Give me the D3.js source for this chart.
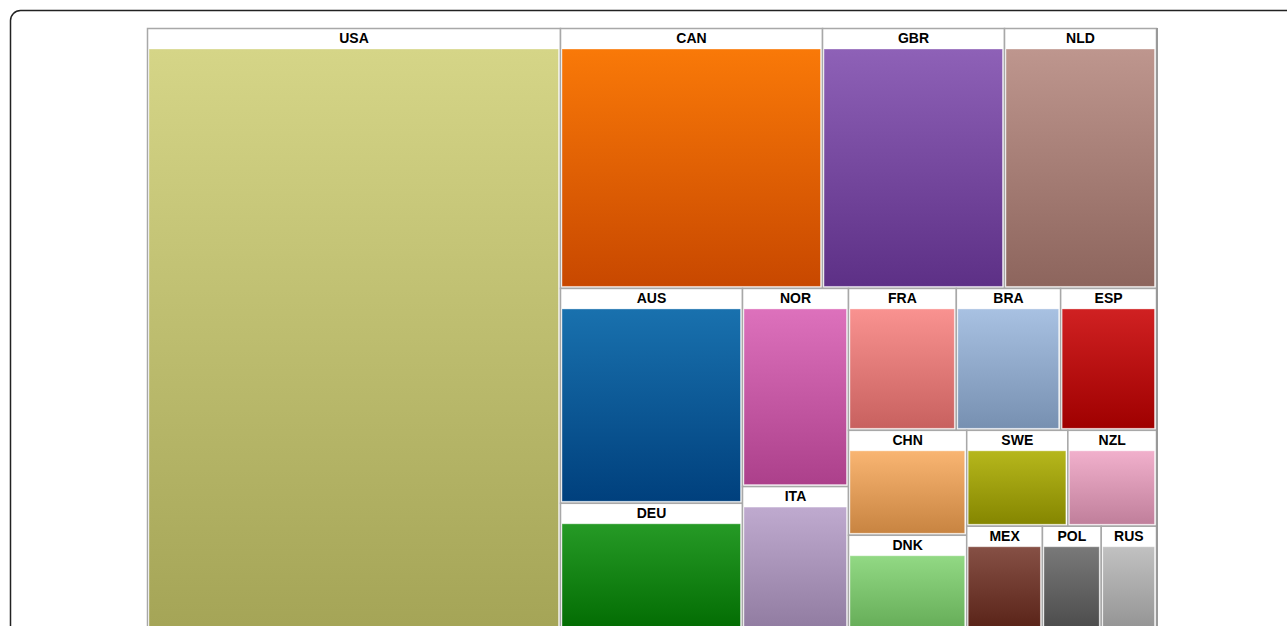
<!DOCTYPE html>
<html>
<head>
<meta charset="utf-8">
<script src="https://cdn.jsdelivr.net/npm/d3@7"></script>
<style>
  html, body { margin: 0; padding: 0; background: #fff; }
  svg { display: block; }
</style>
</head>
<body>
<svg id="chart" width="1287" height="626"></svg>
<script>
// ---- data ----
const countries = ["USA","CAN","GBR","NLD","AUS","DEU","NOR","ITA","FRA","BRA","ESP","CHN","DNK","SWE","NZL","MEX","POL","RUS"];
const values    = [2519, 681, 473, 395, 391, 246, 210, 161, 153, 148, 136, 124, 122, 97, 85, 85, 66, 62];
// category20 colour assigned to each country (same order as countries)
const colors    = ["#dbdb8d","#ff7f0e","#9467bd","#c49c94","#1f77b4","#2ca02c","#e377c2","#c5b0d5","#ff9896","#aec7e8","#d62728","#ffbb78","#98df8a","#bcbd22","#f7b6d2","#8c564b","#7f7f7f","#c7c7c7"];
// row / column grouping of the layout (indices into countries); "h" = side by side, "v" = stacked
const groups = {dir:"h", kids:[0, {dir:"v", kids:[
  {dir:"h", kids:[1,2,3]},
  {dir:"h", kids:[
    {dir:"v", kids:[4,5]},
    {dir:"v", kids:[6,7]},
    {dir:"v", kids:[
      {dir:"h", kids:[8,9,10]},
      {dir:"h", kids:[
        {dir:"v", kids:[11,12]},
        {dir:"v", kids:[
          {dir:"h", kids:[13,14]},
          {dir:"h", kids:[15,16,17]}
        ]}
      ]}
    ]}
  ]}
]}]};

function build(g) {
  if (typeof g === "number") return {name: countries[g], value: values[g], color: colors[g], idx: g};
  return {dir: g.dir, children: g.kids.map(build)};
}

const svg = d3.select("#chart");

// frame
svg.append("rect")
  .attr("x", 10.5).attr("y", 10.5)
  .attr("width", 1320).attr("height", 700)
  .attr("rx", 10).attr("ry", 10)
  .attr("fill", "none").attr("stroke", "#222").attr("stroke-width", 1.5);

const X0 = 147, Y0 = 28, W = 1009, H = 610;

const root = d3.hierarchy(build(groups)).sum(d => d.value || 0);
d3.treemap()
  .size([W, H])
  .tile((node, x0, y0, x1, y1) => {
    (node.data.dir === "h" ? d3.treemapDice : d3.treemapSlice)(node, x0, y0, x1, y1);
  })(root);

const defs = svg.append("defs");
const g = svg.append("g").attr("transform", `translate(${X0},${Y0})`);

function shift(c, k) {
  const r = d3.rgb(c);
  return d3.rgb(Math.max(0, r.r - k), Math.max(0, r.g - k), Math.max(0, r.b - k)).formatHex();
}

const leaves = root.leaves();
leaves.forEach((d, i) => {
  const grad = defs.append("linearGradient")
    .attr("id", "grad" + i)
    .attr("x1", 0).attr("y1", 0).attr("x2", 0).attr("y2", 1);
  grad.append("stop").attr("offset", "0%").attr("stop-color", shift(d.data.color, 6));
  grad.append("stop").attr("offset", "100%").attr("stop-color", shift(d.data.color, 55));
});

const cell = g.selectAll("g.cell").data(leaves).join("g").attr("class", "cell");

cell.append("rect")
  .attr("x", d => d.x0 + 0.5).attr("y", d => d.y0 + 0.5)
  .attr("width", d => d.x1 - d.x0).attr("height", d => d.y1 - d.y0)
  .attr("fill", "#fff").attr("stroke", "#a8a8a8").attr("stroke-width", 1.5);

cell.append("rect")
  .attr("x", d => d.x0 + 2).attr("y", d => d.y0 + 21)
  .attr("width", d => d.x1 - d.x0 - 3.5).attr("height", d => d.y1 - d.y0 - 22.5)
  .attr("fill", (d, i) => `url(#grad${i})`)
  .attr("stroke", "rgba(255,255,255,0.35)").attr("stroke-width", 1);

cell.append("text")
  .attr("x", d => (d.x0 + d.x1) / 2 + 0.5)
  .attr("y", d => d.y0 + 15)
  .attr("text-anchor", "middle")
  .attr("font-family", "Liberation Sans, Arial, sans-serif")
  .attr("font-weight", "bold")
  .attr("font-size", 14)
  .attr("fill", "#000")
  .text(d => d.data.name);

// outer right shadow edge
g.append("line")
  .attr("x1", W + 1).attr("x2", W + 1).attr("y1", 0).attr("y2", H)
  .attr("stroke", "#999").attr("stroke-width", 2);
</script>
</body>
</html>
